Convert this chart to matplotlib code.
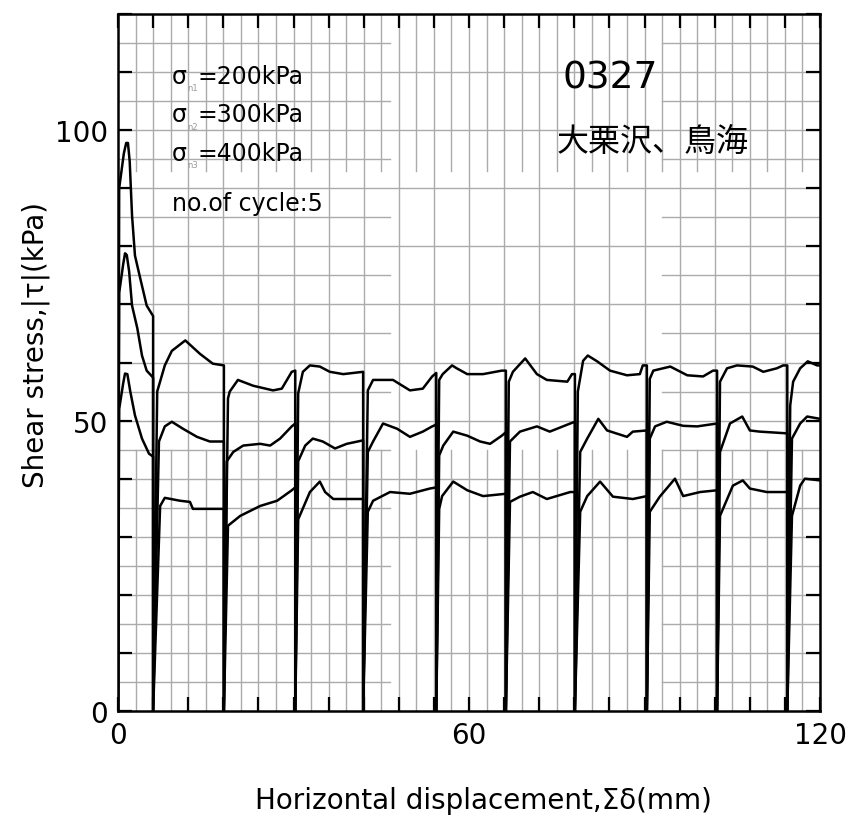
import matplotlib
matplotlib.use("Agg")
import matplotlib.pyplot as plt
import numpy as np
from matplotlib.ticker import FuncFormatter

# unloading / reversal points along cumulative displacement (mm)
reversal_x = [6.0, 18.1, 30.3, 41.9, 54.4, 66.3, 78.1, 90.4, 102.4, 114.4]

# sigma_n = 400 kPa, one list per cycle
x400 = [[0, 0.2, 1.0, 1.4, 1.7, 2.0, 2.4, 2.9, 3.8, 4.9, 6.0],
        [6.7, 8.0, 9.2, 11.5, 14.0, 16.2, 18.1],
        [18.8, 19.1, 20.5, 23.1, 26.5, 28.0, 29.7, 30.3],
        [30.8, 31.6, 32.8, 34.5, 36.2, 38.5, 41.9],
        [42.7, 43.6, 47.0, 49.9, 52.1, 53.7, 54.4],
        [54.9, 55.5, 57.1, 57.9, 59.7, 62.4, 65.6, 66.3],
        [66.8, 67.5, 69.6, 71.6, 73.3, 76.8, 77.6, 78.1],
        [78.6, 79.5, 80.3, 81.9, 84.1, 87.0, 89.2, 89.7, 90.4],
        [90.9, 91.5, 94.4, 97.3, 100.0, 101.7, 102.4],
        [102.9, 104.1, 105.8, 108.5, 110.3, 112.6, 113.7, 114.4],
        [114.9, 115.4, 116.6, 117.9, 119.5, 120]]
t400 = [[0, 90, 96, 97.8, 97.8, 94.6, 85.3, 78.4, 74.5, 69.8, 68],
        [55, 59.5, 62, 63.8, 61.5, 59.8, 59.5],
        [53.8, 55, 57, 56, 55.2, 55.5, 58.4, 58.6],
        [54.7, 58.4, 59.5, 59.3, 58.4, 58, 58.4],
        [55.2, 57, 57, 55.2, 55.5, 57.6, 58.2],
        [57, 58, 59.5, 59, 58, 58, 58.6, 58.6],
        [56.7, 58.4, 60.7, 58, 57, 56.7, 58, 58],
        [55, 60.3, 61.2, 60.2, 58.6, 57.8, 58, 59.5, 59.5],
        [57.2, 58.6, 59.3, 57.8, 57.6, 58.6, 58.6],
        [56.7, 59, 59.5, 59.3, 58.4, 59, 59.5, 59.5],
        [52.6, 56.7, 59, 60.2, 59.5, 59.5]]

# sigma_n = 300 kPa
x300 = [[0, 0.2, 0.9, 1.2, 1.5, 1.9, 2.4, 3.3, 4.1, 4.9, 6.0],
        [7.0, 8.0, 9.2, 11.1, 13.5, 15.7, 18.1],
        [18.6, 19.7, 21.4, 24.3, 26.0, 27.7, 29.7, 30.3],
        [30.8, 32.0, 33.3, 35.0, 37.1, 39.1, 41.9],
        [42.7, 43.6, 45.3, 47.7, 49.9, 52.1, 53.7, 54.4],
        [54.9, 55.6, 57.3, 59.7, 61.9, 63.6, 65.6, 66.3],
        [67.0, 68.7, 71.6, 73.8, 77.3, 78.1],
        [79.0, 80.2, 82.1, 83.6, 87.0, 88.0, 90.4],
        [90.9, 91.8, 93.8, 96.6, 99.0, 102.4],
        [102.9, 104.6, 106.7, 108.0, 109.7, 114.4],
        [115.2, 116.6, 117.8, 120]]
t300 = [[0, 72, 77, 78.8, 78.5, 75.7, 69.8, 65.9, 61.2, 58.6, 57.4],
        [46.4, 49, 49.8, 48.6, 47.2, 46.4, 46.4],
        [43, 44.6, 45.7, 46, 45.7, 46.9, 49, 49.5],
        [43, 45.7, 46.9, 46.4, 45.2, 46, 46.6],
        [44.6, 46.4, 49.5, 48.6, 47.2, 48.1, 49, 49.3],
        [44, 45.7, 48.1, 47.4, 46.4, 46, 47.4, 48],
        [46.4, 48.1, 49, 48.1, 49.5, 49.8],
        [44.6, 46.9, 50.3, 48.3, 47.2, 48.1, 48.3],
        [46.9, 49, 49.8, 49.1, 49, 49.5],
        [44.6, 49.5, 50.7, 48.3, 48.1, 47.8],
        [46.9, 49.5, 50.7, 50.3]]

# sigma_n = 200 kPa
x200 = [[0, 0.2, 0.9, 1.2, 1.6, 2.1, 2.9, 4.1, 5.3, 6.0],
        [7.2, 8.0, 10.6, 12.3, 12.8, 18.1],
        [18.8, 20.9, 24.3, 27.2, 29.7, 30.3],
        [30.8, 32.8, 34.5, 35.4, 36.8, 41.9],
        [42.7, 43.6, 46.5, 49.9, 53.3, 54.4],
        [54.9, 55.4, 57.3, 59.7, 62.4, 66.3],
        [67.0, 68.7, 70.9, 73.3, 77.3, 78.1],
        [79.0, 80.2, 82.4, 84.6, 88.0, 90.4],
        [90.9, 92.6, 95.2, 96.6, 99.5, 102.4],
        [102.9, 105.1, 106.8, 108.0, 110.9, 114.4],
        [115.2, 116.6, 117.4, 120]]
t200 = [[0, 52, 56.5, 58.1, 58, 55, 50.9, 46.9, 44.3, 43.8],
        [35.3, 36.7, 36.2, 36, 34.8, 34.8],
        [31.9, 33.6, 35.3, 36.2, 38, 38.5],
        [33, 37.7, 39.5, 37.7, 36.5, 36.5],
        [34.3, 36.2, 37.7, 37.4, 38.3, 38.5],
        [34.8, 37, 39.5, 38, 37, 37.4],
        [36, 36.9, 37.7, 36.5, 37.7, 37.7],
        [34.3, 37, 39.5, 36.9, 36.5, 37],
        [34.3, 36.9, 40, 37, 37.7, 38],
        [33.6, 38.8, 39.7, 38.3, 37.7, 37.7],
        [33.6, 38.8, 40, 39.7]]

stress_labels = ["200kPa", "300kPa", "400kPa"]
sub_labels = ["n1", "n2", "n3"]


def join_cycles(xs, ts):
    # stress goes back to zero at each reversal (|tau| plotted)
    X, T = [], []
    for i, (cx, ct) in enumerate(zip(xs, ts)):
        X += cx
        T += ct
        if i < len(reversal_x):
            X.append(reversal_x[i])
            T.append(0)
    return X, T


fig = plt.figure(figsize=(8.52, 8.2), dpi=100)
ax = fig.add_axes([0.1385, 0.1317, 0.824, 0.85])
ax.set_xlim(0, 120)
ax.set_ylim(0, 120)

gcol = "#ababab"
# grid, a bit patchy like the original sheet
for yv in np.arange(5, 120, 5):
    if yv % 10 == 0:
        ax.axhline(yv, color=gcol, lw=1.0, zorder=0)
    else:
        ax.axhline(yv, xmin=0, xmax=46.5 / 120, color=gcol, lw=1.0, zorder=0)
        ax.axhline(yv, xmin=93 / 120, xmax=1, color=gcol, lw=1.0, zorder=0)
for xv in np.arange(3, 120, 3):
    if xv % 6 == 0:
        ax.axvline(xv, color=gcol, lw=1.0, zorder=0)
    else:
        ax.axvline(xv, ymin=0, ymax=45 / 120, color=gcol, lw=1.0, zorder=0)
        ax.axvline(xv, ymin=93 / 120, ymax=1, color=gcol, lw=1.0, zorder=0)

for xs, ts in [(x200, t200), (x300, t300), (x400, t400)]:
    X, T = join_cycles(xs, ts)
    ax.plot(X, T, color="black", lw=1.8, zorder=3)

ax.set_xticks(np.arange(0, 121, 6))
ax.set_yticks(np.arange(0, 121, 10))
ax.xaxis.set_major_formatter(FuncFormatter(lambda v, p: f"{v:g}" if v in (0, 60, 120) else ""))
ax.yaxis.set_major_formatter(FuncFormatter(lambda v, p: f"{v:g}" if v in (0, 50, 100) else ""))
ax.tick_params(direction="in", length=10, width=1.6, top=True, right=True,
               labelsize=20, colors="black")
ax.tick_params(axis="x", pad=7)
ax.tick_params(axis="y", pad=7)
for s in ax.spines.values():
    s.set_linewidth(1.8)

ax.set_ylabel("Shear stress,|τ|(kPa)", fontsize=20)
ax.yaxis.set_label_coords(-0.097, 0.527)
ax.set_xlabel("Horizontal displacement,Σδ(mm)", fontsize=20)
ax.xaxis.set_label_coords(0.52, -0.108)

# condition notes
for i, (lab, sub) in enumerate(zip(stress_labels, sub_labels)):
    yv = 109.3 - 6.6 * i
    ax.text(9.2, yv, "σ", fontsize=17, va="center", ha="left")
    ax.text(11.9, yv - 2.0, sub, fontsize=6, color="#999999", va="center", ha="left")
    ax.text(13.6, yv, "=" + lab, fontsize=17, va="center", ha="left")
ax.text(9.2, 87.4, "no.of cycle:5", fontsize=17, va="center", ha="left")

ax.text(76, 109.1, "0327", fontsize=27, va="center", ha="left")
ax.text(75, 98.1, "大栗沢、鳥海", fontsize=23, va="center", ha="left",
        family=["Noto Sans CJK JP", "DejaVu Sans"])

fig.savefig("out.png", dpi=100)
